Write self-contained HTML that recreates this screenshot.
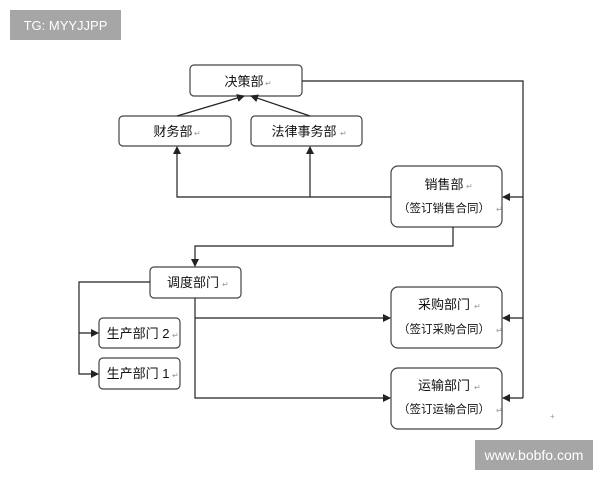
<!DOCTYPE html>
<html><head><meta charset="utf-8"><style>
body{margin:0;background:#fff;width:600px;height:480px;overflow:hidden;position:relative;font-family:"Liberation Sans","Noto Sans CJK SC",sans-serif}
.b{position:absolute;background:#a6a6a6;color:#fff;font-size:14px;display:flex;align-items:center;justify-content:center}
</style></head><body>
<div class="b" style="left:10px;top:10px;width:111px;height:30px;font-size:13px">TG: MYYJJPP</div>
<div class="b" style="left:475px;top:440px;width:118px;height:30px">www.bobfo.com</div>
<svg width="600" height="480" style="position:absolute;left:0;top:0" font-family="Liberation Sans, Noto Sans CJK SC, sans-serif" fill="none">
<defs><marker id="a" markerWidth="8" markerHeight="8" refX="7" refY="4" orient="auto" markerUnits="userSpaceOnUse"><path d="M0,0L8,4L0,8z" fill="#222"/></marker></defs>
<g stroke="#444" stroke-width="1.2">
<rect x="190" y="65" width="112" height="31" rx="4"/>
<rect x="119" y="116" width="112" height="30" rx="4"/>
<rect x="251" y="116" width="111" height="30" rx="4"/>
<rect x="391" y="166" width="111" height="61" rx="7"/>
<rect x="150" y="267" width="91" height="31" rx="4"/>
<rect x="99" y="318" width="81" height="30" rx="4"/>
<rect x="99" y="358" width="81" height="31" rx="4"/>
<rect x="391" y="287" width="111" height="61" rx="7"/>
<rect x="391" y="368" width="111" height="61" rx="7"/>
</g>
<g stroke="#222" stroke-width="1.2">
<path d="M177,116L244,96" marker-end="url(#a)"/>
<path d="M310,116L251,96" marker-end="url(#a)"/>
<path d="M391,197H177V147" marker-end="url(#a)"/>
<path d="M310,197V147" marker-end="url(#a)"/>
<path d="M302,81H523V398"/>
<path d="M523,197H503" marker-end="url(#a)"/>
<path d="M523,318H503" marker-end="url(#a)"/>
<path d="M523,398H503" marker-end="url(#a)"/>
<path d="M453,227V246H195V266" marker-end="url(#a)"/>
<path d="M150,282H79V374H98" marker-end="url(#a)"/>
<path d="M79,333H98" marker-end="url(#a)"/>
<path d="M195,298V398H390" marker-end="url(#a)"/>
<path d="M195,318H390" marker-end="url(#a)"/>
</g>
<g fill="#111" font-size="13" text-anchor="middle">
<text x="244" y="86">决策部</text>
<text x="173" y="136">财务部</text>
<text x="304" y="136">法律事务部</text>
<text x="444" y="189">销售部</text>
<text x="444" y="212" font-size="11.5">（签订销售合同）</text>
<text x="193" y="287">调度部门</text>
<text x="138" y="338">生产部门 2</text>
<text x="138" y="378">生产部门 1</text>
<text x="444" y="309">采购部门</text>
<text x="444" y="333" font-size="11.5">（签订采购合同）</text>
<text x="444" y="390">运输部门</text>
<text x="444" y="413" font-size="11.5">（签订运输合同）</text>
</g>
<g fill="#999" font-size="8">
<text x="265" y="86">↵</text><text x="194" y="136">↵</text><text x="340" y="136">↵</text>
<text x="466" y="189">↵</text><text x="496" y="212">↵</text><text x="222" y="287">↵</text>
<text x="172" y="338">↵</text><text x="172" y="378">↵</text><text x="474" y="309">↵</text>
<text x="496" y="333">↵</text><text x="474" y="390">↵</text><text x="496" y="413">↵</text>
<text x="550" y="419">+</text>
</g>
</svg>
</body></html>
